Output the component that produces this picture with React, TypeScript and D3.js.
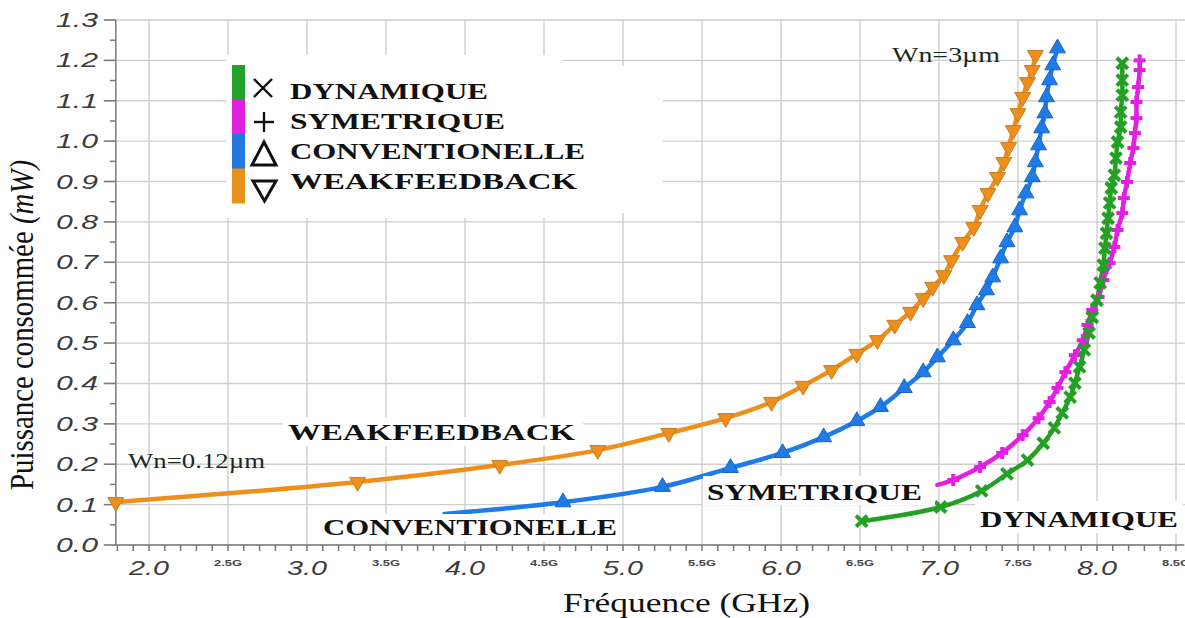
import React from "react";
import * as d3 from "d3";

const W = 1185;
const H = 618;

// ---- data (GHz, mW) ----
const weakFreq = [1.79, 3.32, 4.22, 4.84, 5.29, 5.65, 5.94, 6.14, 6.32, 6.48, 6.61, 6.72, 6.82, 6.9, 6.96, 7.03, 7.08, 7.15, 7.22, 7.26, 7.31, 7.37, 7.41, 7.44, 7.47, 7.5, 7.53, 7.56, 7.59, 7.61];
const weakPow = [0.106, 0.156, 0.198, 0.235, 0.277, 0.314, 0.354, 0.394, 0.433, 0.473, 0.507, 0.545, 0.577, 0.611, 0.639, 0.668, 0.705, 0.75, 0.787, 0.829, 0.871, 0.911, 0.948, 0.985, 1.027, 1.069, 1.109, 1.146, 1.176, 1.213];

const convFreq = [3.87, 4.62, 5.25, 5.68, 6.01, 6.27, 6.48, 6.63, 6.78, 6.9, 6.99, 7.09, 7.18, 7.24, 7.3, 7.34, 7.39, 7.43, 7.48, 7.51, 7.55, 7.59, 7.61, 7.63, 7.65, 7.67, 7.68, 7.7, 7.72, 7.75];
const convPow = [0.077, 0.106, 0.144, 0.191, 0.228, 0.267, 0.307, 0.342, 0.389, 0.428, 0.465, 0.507, 0.55, 0.594, 0.631, 0.663, 0.71, 0.75, 0.787, 0.829, 0.871, 0.911, 0.948, 0.99, 1.032, 1.069, 1.109, 1.151, 1.188, 1.23];

const dynFreq = [6.51, 7.01, 7.27, 7.43, 7.56, 7.66, 7.73, 7.78, 7.83, 7.86, 7.89, 7.92, 7.95, 7.97, 8.0, 8.02, 8.04, 8.05, 8.06, 8.07, 8.08, 8.09, 8.11, 8.12, 8.13, 8.15, 8.15, 8.16, 8.16, 8.16];
const dynPow = [0.059, 0.094, 0.134, 0.176, 0.21, 0.252, 0.29, 0.327, 0.366, 0.401, 0.441, 0.483, 0.525, 0.564, 0.606, 0.649, 0.693, 0.735, 0.772, 0.809, 0.847, 0.884, 0.916, 0.958, 0.998, 1.035, 1.072, 1.114, 1.151, 1.193];

const symFreq = [6.99, 7.09, 7.26, 7.4, 7.53, 7.63, 7.7, 7.75, 7.8, 7.86, 7.91, 7.94, 7.97, 8.01, 8.04, 8.08, 8.11, 8.13, 8.16, 8.17, 8.19, 8.21, 8.23, 8.24, 8.25, 8.25, 8.26, 8.27, 8.27];
const symPow = [0.149, 0.161, 0.193, 0.228, 0.272, 0.314, 0.354, 0.389, 0.428, 0.47, 0.507, 0.545, 0.582, 0.614, 0.656, 0.698, 0.738, 0.78, 0.822, 0.859, 0.899, 0.946, 0.983, 1.02, 1.057, 1.097, 1.134, 1.176, 1.2];

const yTickValues = [0, 0.1, 0.2, 0.3, 0.4, 0.5, 0.6, 0.7, 0.8, 0.9, 1.0, 1.1, 1.2, 1.3];
const yTickLabels = ["0.0", "0.1", "0.2", "0.3", "0.4", "0.5", "0.6", "0.7", "0.8", "0.9", "1.0", "1.1", "1.2", "1.3"];
const xMajorValues = [2, 3, 4, 5, 6, 7, 8];
const xMajorLabels = ["2.0", "3.0", "4.0", "5.0", "6.0", "7.0", "8.0"];
const xMinorValues = [2.5, 3.5, 4.5, 5.5, 6.5, 7.5, 8.5];
const xMinorLabels = ["2.5G", "3.5G", "4.5G", "5.5G", "6.5G", "7.5G", "8.5G"];

const legendNames = ["DYNAMIQUE", "SYMETRIQUE", "CONVENTIONELLE", "WEAKFEEDBACK"];
const legendColors = ["#22a22a", "#e020dc", "#2178e0", "#e8921e"];

const C_ORANGE = "#ee8f1c";
const C_BLUE = "#1f7be8";
const C_GREEN = "#24a024";
const C_MAG = "#e41fe4";

export default function App() {
  const x = d3.scaleLinear().domain([2, 8]).range([149, 1097]);
  const y = d3.scaleLinear().domain([0, 1.3]).range([545, 20]);
  const x0 = x(1.79);
  const x1 = x(8.55);

  const line = d3
    .line<[number, number]>()
    .x((d) => x(d[0]))
    .y((d) => y(d[1]))
    .curve(d3.curveCatmullRom.alpha(0.5));

  const zip = (a: number[], b: number[]) => a.map((v, i) => [v, b[i]] as [number, number]);
  const weak = zip(weakFreq, weakPow);
  const conv = zip(convFreq, convPow);
  const dyn = zip(dynFreq, dynPow);
  const sym = zip(symFreq, symPow);

  const tri = d3.symbol(d3.symbolTriangle, 110)() as string;

  const yMinor = d3.range(0, 1.3001, 0.05);
  const xMinorTicks = d3.range(1.8, 8.56, 0.1);
  const gridX = d3.range(2, 8.51, 0.5);

  const serif = "'Liberation Serif', 'Times New Roman', 'DejaVu Serif', serif";
  const sans = "'Liberation Sans', Arial, sans-serif";

  const Label = (p: { x: number; y: number; w: number; text: string; size: number; color?: string; bold?: boolean; anchor?: string }) => (
    <text
      x={p.x}
      y={p.y}
      textLength={p.w}
      lengthAdjust="spacingAndGlyphs"
      fontFamily={serif}
      fontWeight={p.bold ? "bold" : "normal"}
      fontSize={p.size}
      fill={p.color || "#111"}
      textAnchor={p.anchor || "start"}
    >
      {p.text}
    </text>
  );

  return (
    <svg
      width={W}
      height={H}
      style={{ position: "absolute", left: 0, top: 0, background: "#fff" }}
    >
      <rect x={0} y={0} width={W} height={H} fill="#fff" />

      {/* grid */}
      <g stroke="#cfcfcf" strokeWidth={1.4}>
        {yTickValues.map((v) => (
          <line key={"gy" + v} x1={x0 - 12} x2={W} y1={y(v)} y2={y(v)} />
        ))}
        {gridX.map((v) => (
          <line key={"gx" + v} x1={x(v)} x2={x(v)} y1={y(1.3)} y2={y(0)} />
        ))}
      </g>

      {/* axes */}
      <g stroke="#7a7a7a" strokeWidth={1.5}>
        <line x1={x0} x2={x0} y1={y(1.3)} y2={y(0)} />
        <line x1={x0} x2={x1} y1={y(0)} y2={y(0)} />
        {yMinor.map((v, i) => (
          <line key={"ty" + i} x1={i % 2 === 0 ? x0 - 12 : x0 - 6} x2={x0} y1={y(v)} y2={y(v)} />
        ))}
        {xMinorTicks.map((v, i) => (
          <line key={"tx" + i} x1={x(v)} x2={x(v)} y1={y(0)} y2={y(0) + 6} />
        ))}
      </g>

      {/* y tick labels */}
      <g fontFamily={sans} fontStyle="italic" fontSize={20} fill="#3c3c3c">
        {yTickValues.map((v, i) => (
          <text key={"yl" + i} x={98} y={y(v) + 7} textAnchor="end" textLength={42} lengthAdjust="spacingAndGlyphs">
            {yTickLabels[i]}
          </text>
        ))}
      </g>

      {/* x tick labels */}
      <g fontFamily={sans} fontStyle="italic" fontSize={21} fill="#3c3c3c">
        {xMajorValues.map((v, i) => (
          <text key={"xl" + i} x={x(v)} y={575} textAnchor="middle" textLength={40} lengthAdjust="spacingAndGlyphs">
            {xMajorLabels[i]}
          </text>
        ))}
      </g>
      <g fontFamily={sans} fontWeight="bold" fontSize={9} fill="#444">
        {xMinorValues.map((v, i) => (
          <text key={"xm" + i} x={x(v)} y={566} textAnchor="middle" textLength={28} lengthAdjust="spacingAndGlyphs">
            {xMinorLabels[i]}
          </text>
        ))}
      </g>

      {/* axis titles */}
      <text x={563} y={612} fontFamily={serif} fontSize={27} fill="#111" textLength={247} lengthAdjust="spacingAndGlyphs">
        Fréquence (GHz)
      </text>
      <g transform="translate(33,490) scale(1.2,1) rotate(-90)">
        <text x={0} y={0} fontFamily={serif} fontSize={28} fill="#111" textLength={330} lengthAdjust="spacingAndGlyphs">
          Puissance consommée <tspan fontStyle="italic">(mW)</tspan>
        </text>
      </g>

      {/* lines */}
      <g fill="none" strokeWidth={4.5} strokeLinejoin="round" strokeLinecap="round">
        <path d={line(weak) || ""} stroke={C_ORANGE} />
        <path d={line(conv) || ""} stroke={C_BLUE} />
        <path d={line(sym) || ""} stroke={C_MAG} />
        <path d={line(dyn) || ""} stroke={C_GREEN} />
      </g>

      {/* markers */}
      <g>
        {weak.map((d, i) => (
          <path key={"mw" + i} d={tri} transform={`translate(${x(d[0])},${y(d[1])}) rotate(180)`} fill={C_ORANGE} stroke="#c97d22" strokeWidth={1} />
        ))}
        {conv.slice(1).map((d, i) => (
          <path key={"mc" + i} d={tri} transform={`translate(${x(d[0])},${y(d[1])})`} fill={C_BLUE} stroke="#1a64c4" strokeWidth={1} />
        ))}
        {sym.slice(1).map((d, i) => (
          <g key={"ms" + i} transform={`translate(${x(d[0])},${y(d[1])})`} stroke={C_MAG} strokeWidth={4}>
            <line x1={-6} x2={6} y1={0} y2={0} />
            <line x1={0} x2={0} y1={-6} y2={6} />
          </g>
        ))}
        {dyn.map((d, i) => (
          <g key={"md" + i} transform={`translate(${x(d[0])},${y(d[1])})`} stroke={C_GREEN} strokeWidth={4}>
            <line x1={-5.5} x2={5.5} y1={-5.5} y2={5.5} />
            <line x1={-5.5} x2={5.5} y1={5.5} y2={-5.5} />
          </g>
        ))}
      </g>

      {/* in-plot labels with white backgrounds */}
      <rect x={283} y={417} width={300} height={29} fill="#fff" />
      <Label x={288} y={440} w={287} text="WEAKFEEDBACK" size={24} bold />
      <rect x={318} y={514} width={304} height={27} fill="#fff" />
      <Label x={323} y={535} w={294} text="CONVENTIONELLE" size={24} bold />
      <rect x={703} y={476} width={232} height={29} fill="#fff" />
      <Label x={707} y={500} w={215} text="SYMETRIQUE" size={24} bold />
      <rect x={975} y={501} width={208} height={32} fill="#fff" />
      <Label x={980} y={527} w={198} text="DYNAMIQUE" size={24} bold />

      <Label x={128} y={468} w={137} text="Wn=0.12µm" size={20} color="#1a2a1a" />
      <Label x={892} y={62} w={108} text="Wn=3µm" size={20} color="#1a2a1a" />

      {/* legend */}
      <rect x={226} y={55} width={337} height={163} fill="#fff" />
      <rect x={226} y={66} width={437} height={147} fill="#fff" />
      {legendColors.map((c, i) => (
        <rect key={"lc" + i} x={232} y={65 + i * 34.5} width={13} height={35} fill={c} />
      ))}
      <g stroke="#111" fill="none" strokeWidth={2.4}>
        <line x1={254} x2={272} y1={79} y2={97} />
        <line x1={254} x2={272} y1={97} y2={79} />
        <line x1={254} x2={274} y1={122} y2={122} />
        <line x1={264} x2={264} y1={112} y2={132} />
        <path d="M264,142 L276,165 L252,165 Z" strokeWidth={3} />
        <path d="M253,181 L276,181 L264.5,201 Z" strokeWidth={3} />
      </g>
      <Label x={290} y={99} w={198} text={legendNames[0]} size={24} bold />
      <Label x={290} y={129} w={215} text={legendNames[1]} size={24} bold />
      <Label x={290} y={159} w={295} text={legendNames[2]} size={24} bold />
      <Label x={290} y={189} w={287} text={legendNames[3]} size={24} bold />
    </svg>
  );
}
